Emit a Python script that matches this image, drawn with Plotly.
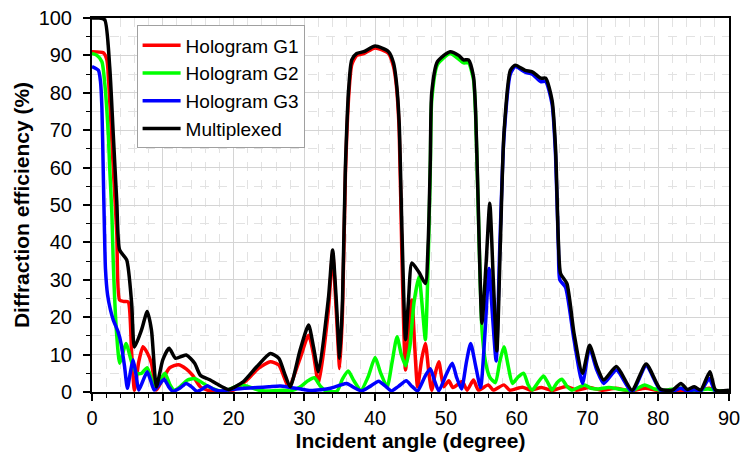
import plotly.graph_objects as go

# Hologram G1 (red)
ang_g1 = [0, 1.6, 2.1, 2.5, 3.0, 3.5, 3.9, 4.5, 5.1, 5.6, 6.0, 6.6, 7.2, 7.8, 8.4, 9.1,
          10.0, 11.0, 12.2, 13.3, 14.2, 15.3, 16.7, 18.5, 20.0, 21.9, 23.5, 25.2, 26.4,
          27.8, 29.4, 30.6, 31.3, 32.0, 33.4, 34.0, 34.5, 35.0, 35.4, 35.8, 36.3, 36.7,
          37.4, 38.4, 40.0, 41.9, 42.6, 43.0, 43.4, 43.8, 44.3, 44.8, 45.2, 45.6, 46.0,
          46.6, 47.1, 47.6, 48.0, 48.5, 49.0, 49.7, 50.4, 51.0, 52.3, 53.0, 53.9, 54.6,
          56.0, 56.7, 58.2, 59.0, 60.8, 62.0, 63.5, 65.0, 67.0, 68.5, 70.2, 72.0, 74.0,
          76.0, 78.2, 80.0, 83.0, 85.0, 87.2, 88.5, 90]
eff_g1 = [91, 90.7, 88.8, 78, 60, 42.5, 24.6, 24.2, 24.1, 10.4, 0.5, 8, 12.1, 10.5, 7.7, 0.5,
          3.5, 6.5, 7.3, 6.2, 4.5, 1.4, 0.3, 0.2, 0.5, 3.2, 6.3, 8.1, 7.2,
          1.4, 9, 15.2, 10, 2.3, 22, 37, 22, 6.3, 22, 58, 80, 87.5,
          90, 90.5, 92, 90.5, 87, 82, 70, 35, 5.9, 18, 24.6, 12, 1.4,
          9, 13, 5, 0.5, 5, 8.1, 1.4, 3, 1.2, 2.8, 0.5, 3.2, 0.5,
          1.9, 0.5, 1.9, 0.5, 1.3, 0.5, 1.2, 0.4, 1.5, 0.5, 1.2, 0.5, 1.0,
          0.3, 1.0, 0.4, 0.3, 0.2, 1.0, 0.2, 0.2]

# Hologram G2 (green)
ang_g2 = [0, 0.7, 1.4, 1.8, 2.3, 2.5, 2.8, 3.0, 3.2, 3.5, 3.9, 4.3, 4.8, 5.6, 6.3, 7.0,
          7.8, 8.9, 9.6, 10.3, 11.0, 11.6, 12.5, 13.5, 14.5, 15.3, 16.7, 18.6, 20.9,
          22.0, 23.5, 25.0, 27.0, 28.0, 29.5, 30.5, 31.4, 32.3, 33.0, 34.6, 35.4, 36.2,
          37.0, 38.0, 39.0, 40.0, 40.8, 41.7, 42.4, 43.1, 43.7, 44.3, 44.9, 45.5, 46.2,
          46.7, 47.1, 47.5, 47.8, 48.0, 48.8, 50.6, 51.8, 52.5, 53.2, 53.9, 54.2, 54.5,
          55.1, 55.6, 56.2, 57.0, 57.6, 58.2, 58.8, 59.4, 60.2, 61.0, 61.6, 62.2, 63.0,
          63.8, 64.4, 65.0, 65.7, 66.4, 67.1, 67.8, 68.7, 69.6, 70.5, 71.5, 73.0, 75.0,
          76.5, 78.1, 79.5, 81.0, 83.2, 85.0, 87.0, 88.5, 90]
eff_g2 = [90.5, 90, 88.3, 82.6, 69, 60, 48, 35, 25, 15, 7.7, 10, 13, 8, 5, 5,
          6.5, 1, 3, 5, 2, 0.5, 1.5, 3.2, 3.6, 2.8, 1.2, 0.2, 1.9,
          1.5, 0.5, 0.3, 0.5, 0.3, 1.5, 3, 3.8, 1.5, 0.3, 0.2, 3.5, 5.6,
          3, 0.5, 4, 9.2, 5, 1.4, 8, 14.8, 10, 7, 12, 24, 30.8,
          22, 14, 35, 60, 78, 87.5, 90.5, 89, 88, 88, 83.5, 74, 54,
          16.6, 8, 4, 2.5, 8, 12.1, 7, 2.3, 4, 5, 2, 0.5, 2.5,
          4.3, 2.5, 0.5, 2.5, 3.4, 1.5, 0.5, 1.2, 1.9, 1, 0.8, 1.2, 0.6,
          0.5, 1.9, 0.8, 0.5, 1, 0.3, 0.8, 0.3, 0.3]

# Hologram G3 (blue)
ang_g3 = [0, 0.9, 1.2, 1.4, 1.6, 1.75, 1.9, 2.2, 2.6, 3.0, 3.7, 4.1, 4.6, 5.0, 5.4, 5.8,
          6.2, 6.6, 7.2, 7.8, 8.3, 8.8, 9.5, 10.2, 10.8, 11.4, 12.4, 13.3, 14.0, 14.8,
          15.6, 16.3, 17.2, 18.1, 19.9, 21.5, 23.3, 25.0, 26.6, 28.0, 29.5, 30.8, 32.3,
          33.7, 35.0, 36.0, 37.0, 38.1, 39.3, 40.5, 41.5, 42.3, 43.3, 44.4, 45.2, 46.0,
          47.0, 47.8, 48.4, 49.0, 50.0, 50.9, 51.5, 52.2, 52.9, 53.5, 54.2, 54.9, 55.5,
          56.1, 56.6, 57.1, 57.6, 58.2, 59.1, 59.8, 61.2, 62.2, 63.4, 64.1, 65.0, 65.5,
          65.9, 66.1, 66.9, 68.1, 69.3, 70.3, 71.3, 72.3, 74.1, 76.3, 78.3, 80.3, 82.0,
          83.2, 84.1, 85.1, 86.0, 87.2, 88.1, 90]
eff_g3 = [87, 86, 83, 76, 58, 44, 33, 26, 22, 19.3, 16, 13, 6.8, 1, 5, 8.6,
          5, 0.5, 3, 5.4, 3, 0.5, 2, 3.4, 1.5, 0.2, 1, 2.3, 1.5, 0.2,
          0.8, 1.7, 0.7, 0.3, 0.7, 1, 1.2, 1.4, 1.6, 1.2, 0.8, 0.4, 0.6,
          1, 1.8, 2.3, 1.2, 0.3, 1.5, 2.9, 1.5, 0.3, 1.5, 3, 1.5, 0.3,
          4, 6.2, 3, 0.3, 4.5, 7.7, 4, 0.8, 8, 13, 7, 1.2, 15,
          33, 20, 8.3, 38, 68, 85, 87, 85.5, 85, 83, 83, 77, 63,
          38, 30, 28, 14, 2.3, 11.7, 6, 2.3, 5.9, 0, 7, 0.5, 0.2,
          1, 0.2, 0.6, 0.2, 3.6, 0.2, 0.2]

# Multiplexed (black)
ang_mux = [0, 1.0, 1.8, 2.5, 3.0, 3.5, 3.9, 4.9, 5.6, 6.0, 7.0, 7.8, 8.4, 9.1, 10.0,
           10.9, 11.8, 13.3, 14.5, 15.3, 16.7, 17.6, 19.3, 21.4, 23.3, 25.2, 26.4, 27.2,
           28.0, 29.4, 30.6, 31.3, 32.0, 33.4, 34.0, 34.5, 35.0, 35.4, 35.8, 36.3, 36.7,
           37.4, 38.4, 40.0, 41.9, 42.6, 43.0, 43.4, 43.8, 44.3, 44.7, 45.2, 46.2, 47.1,
           47.5, 47.8, 48.0, 48.8, 50.6, 51.8, 52.5, 53.2, 53.9, 54.2, 54.5, 55.1, 55.7,
           56.2, 56.7, 57.2, 57.7, 58.2, 59.1, 59.8, 61.2, 62.2, 63.4, 64.1, 65.0, 65.5,
           65.9, 66.2, 67.1, 68.1, 69.3, 70.3, 71.3, 72.3, 74.1, 76.3, 78.3, 80.3, 82.0,
           83.2, 84.1, 85.1, 86.0, 87.3, 88.1, 90]
eff_mux = [100, 100, 99.5, 87, 69, 51, 38, 35.3, 23.7, 12, 16.6, 21.5, 16.6, 1.4, 8.6,
           11.7, 9, 9.9, 7.7, 4.5, 3.2, 2.2, 0.7, 2.8, 6.8, 10.3, 9, 5,
           1.4, 11.2, 17.9, 12, 5.4, 25, 38, 25, 9, 25, 60, 82, 88.8,
           90.5, 91, 92.5, 91, 88, 83, 72, 42.5, 14, 24, 34.5, 32, 29,
           40, 62, 80, 88.3, 91, 90, 88.8, 88.8, 84.3, 75, 55, 18.4, 35,
           50.5, 30, 11, 40, 69, 86, 87.4, 86, 85.6, 83.9, 83.9, 78, 65,
           40, 31.7, 29, 15.7, 5, 12.5, 7, 3.2, 6.8, 0.5, 7.5, 0.8, 0.5,
           2.3, 0.7, 1.4, 0.5, 5.4, 0.5, 0.5]

series = [
    ("Hologram G1", ang_g1, eff_g1, "#ff0000"),
    ("Hologram G2", ang_g2, eff_g2, "#00ff00"),
    ("Hologram G3", ang_g3, eff_g3, "#0000ff"),
    ("Multiplexed", ang_mux, eff_mux, "#000000"),
]

FONT = "Liberation Sans, Arial"

fig = go.Figure()
for name, xs, ys, color in series:
    fig.add_trace(go.Scatter(
        x=xs, y=ys, name=name, mode="lines",
        line=dict(color=color, width=3.5, shape="spline", smoothing=0.6),
    ))

axis_common = dict(
    showline=True, linecolor="black", linewidth=2, mirror=True,
    ticks="outside", tickcolor="black", tickwidth=1.5, ticklen=7,
    showgrid=True, gridcolor="#d4d4d4", gridwidth=1,
    zeroline=False, automargin=False, ticklabeloverflow="allow",
    tickfont=dict(family=FONT, size=20, color="black"),
)

fig.update_xaxes(
    range=[0, 90], dtick=10, tick0=0,
    minor=dict(dtick=2, ticks="outside", ticklen=4, tickcolor="black", tickwidth=1.2,
               showgrid=True, gridcolor="#e2e2e2", griddash="dash", gridwidth=1),
    title=dict(text="<b>Incident angle (degree)</b>",
               font=dict(family=FONT, size=21, color="black"),
               standoff=4),
    **axis_common,
)
fig.update_yaxes(
    range=[0, 100], dtick=10, tick0=0,
    ticklabelstandoff=7,
    minor=dict(dtick=5, ticks="outside", ticklen=4, tickcolor="black", tickwidth=1.2,
               showgrid=True, gridcolor="#e2e2e2", griddash="dash", gridwidth=1),
    title=dict(text="<b>Diffraction efficiency (%)</b>",
               font=dict(family=FONT, size=21, color="black"),
               standoff=3),
    **axis_common,
)

fig.update_layout(
    width=740, height=460,
    margin=dict(l=92, r=11, t=18, b=68),
    paper_bgcolor="white", plot_bgcolor="white",
    font=dict(family=FONT, color="black"),
    legend=dict(
        x=0.07, y=0.98, xanchor="left", yanchor="top",
        bgcolor="white", bordercolor="#a0a0a0", borderwidth=1,
        font=dict(family=FONT, size=19, color="black"),
        itemwidth=38, tracegroupgap=0,
    ),
)

fig.write_html("out.html")
